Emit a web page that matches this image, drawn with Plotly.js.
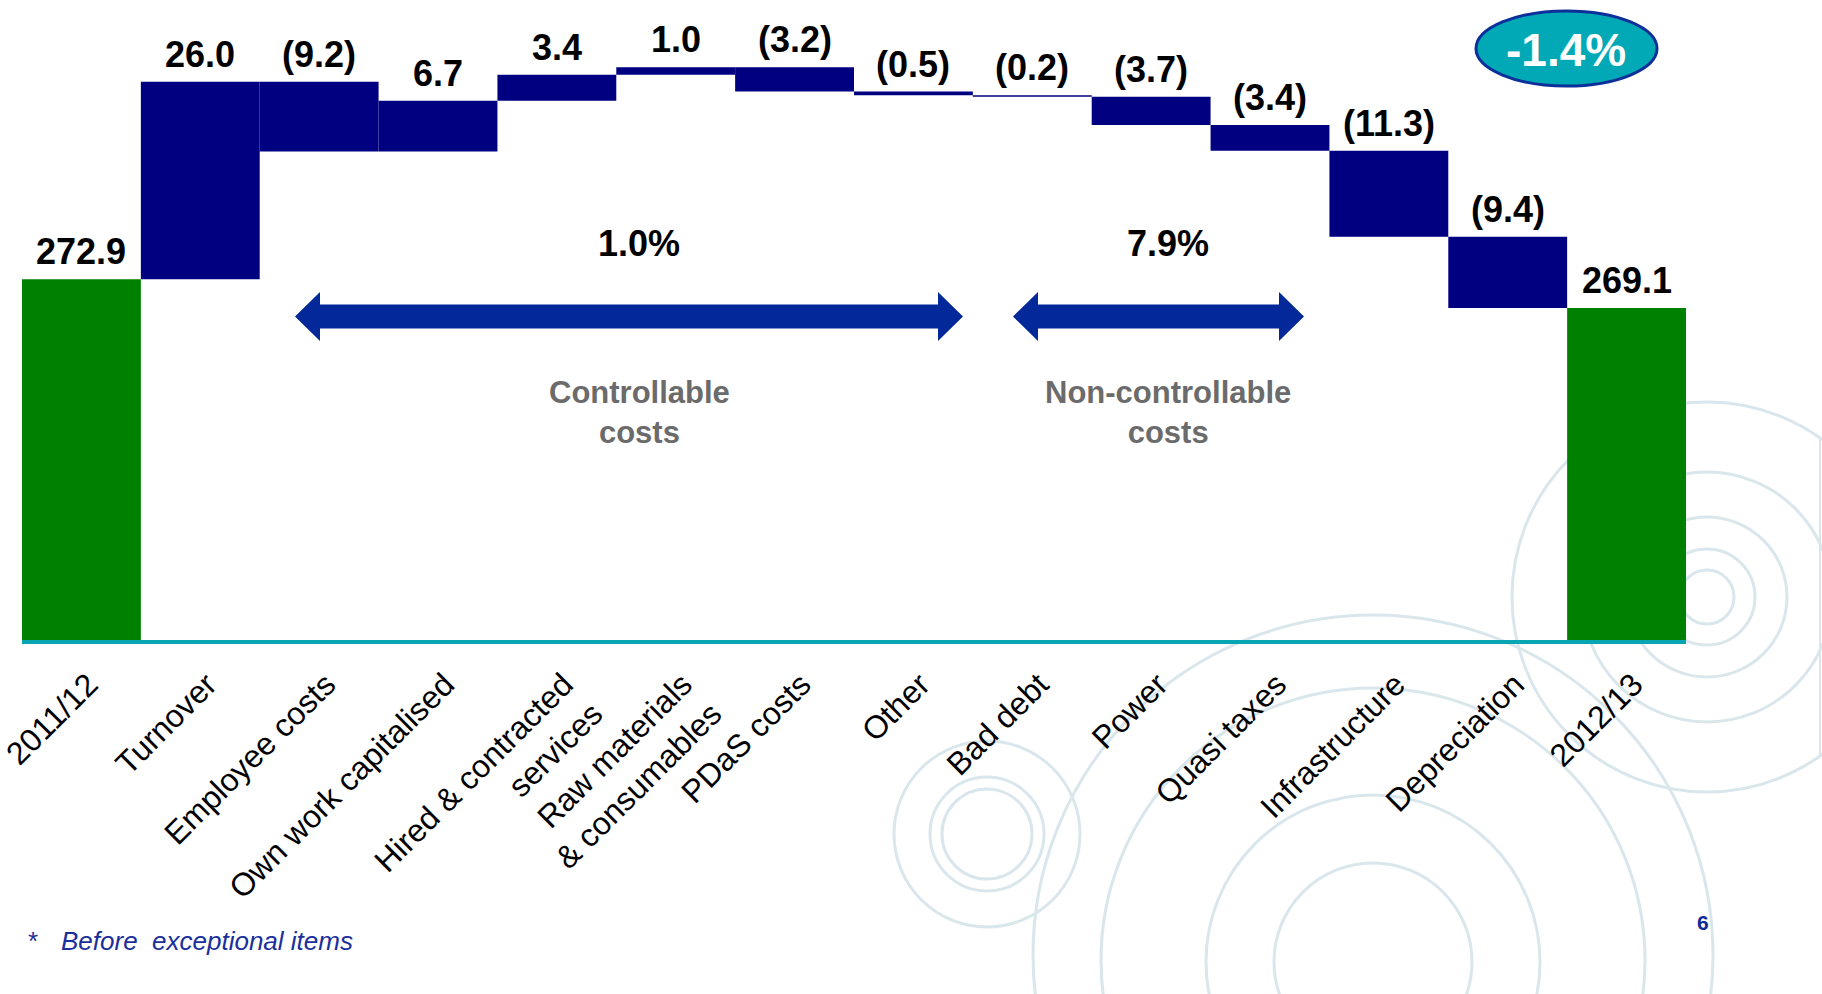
<!DOCTYPE html>
<html><head><meta charset="utf-8">
<script src="https://cdn.plot.ly/plotly-3.0.1.min.js"></script>
<style>html,body{margin:0;padding:0;background:#fff;}#chart{width:1822px;height:994px;}</style>
</head><body><div id="chart"></div>
<script>
// ---- data ----
const categories = ['2011/12','Turnover','Employee costs','Own work capitalised',
  'Hired &amp; contracted<br>services','Raw materials<br>&amp; consumables','PDaS costs','Other',
  'Bad debt','Power','Quasi taxes','Infrastructure','Depreciation','2012/13'];
const values = [272.9, 26.0, -9.2, 6.7, 3.4, 1.0, -3.2, -0.5, -0.2, -3.7, -3.4, -11.3, -9.4, 269.1];
const measures = ['absolute','relative','relative','relative','relative','relative','relative',
  'relative','relative','relative','relative','relative','relative','total'];
const groupNames = ['Controllable<br>costs', 'Non-controllable<br>costs'];
const groupChanges = ['1.0%', '7.9%'];
const totalChange = '-1.4%';
const footnoteMark = '*';
const footnoteText = 'Before\u00a0 exceptional items';
const pageNumber = '6';

// ---- geometry helpers (pixel -> paper) ----
const W = 1822, H = 994, M = {l:22, r:136, t:30, b:354};
const PW = W - M.l - M.r, PH = H - M.t - M.b;
const px = p => (p - M.l) / PW;
const py = p => (H - M.b - p) / PH;

const FONT = '"Liberation Sans", Arial, sans-serif';
const NAVY = '#000080', GREEN = '#008000', TEAL = '#08a6b3', ARROW = '#02289a';
const RING = '#d9e7ec';

// running totals for label placement
const fmt = v => v < 0 ? '(' + Math.abs(v).toFixed(1) + ')' : v.toFixed(1);
let run = 0; const tops = [];
values.forEach((v, i) => {
  if (measures[i] === 'absolute') { run = v; tops.push(v); }
  else if (measures[i] === 'total') { tops.push(run); }
  else { const prev = run; run += v; tops.push(Math.max(prev, run)); }
});

const trace = {
  type: 'waterfall', x: categories, y: values, measure: measures,
  increasing: {marker: {color: NAVY}}, decreasing: {marker: {color: NAVY}},
  totals: {marker: {color: GREEN}},
  connector: {visible: false}, textinfo: 'none', hoverinfo: 'skip'
};

const annotations = categories.map((c, i) => ({
  x: c, y: tops[i], xref: 'x', yref: 'y', yanchor: 'bottom', yshift: 5,
  text: fmt(values[i]), showarrow: false,
  font: {family: FONT, size: 36, color: '#000', weight: 700}
}));

// group labels
const groupCenters = [639, 1168];
groupChanges.forEach((t, i) => annotations.push({
  xref: 'paper', yref: 'paper', x: px(groupCenters[i]), y: py(243), text: t, showarrow: false,
  xanchor: 'center', yanchor: 'middle', font: {family: FONT, size: 36, color: '#000', weight: 700}
}));
groupNames.forEach((t, i) => annotations.push({
  xref: 'paper', yref: 'paper', x: px(groupCenters[i]), y: py(412), text: t, showarrow: false,
  xanchor: 'center', yanchor: 'middle', font: {family: FONT, size: 31, color: '#6b6b6b', weight: 700}
}));
annotations.push({xref: 'paper', yref: 'paper', x: px(1566), y: py(50), text: totalChange,
  showarrow: false, xanchor: 'center', yanchor: 'middle',
  font: {family: FONT, size: 46, color: '#fff', weight: 700}});
annotations.push({xref: 'paper', yref: 'paper', x: px(33), y: py(941), text: footnoteMark,
  showarrow: false, xanchor: 'center', yanchor: 'middle',
  font: {family: FONT, size: 26, color: '#1a2f9c'}});
annotations.push({xref: 'paper', yref: 'paper', x: px(59), y: py(941), text: footnoteText,
  showarrow: false, xanchor: 'left', yanchor: 'middle',
  font: {family: FONT, size: 26, color: '#1a2f9c', style: 'italic'}});
annotations.push({xref: 'paper', yref: 'paper', x: px(1703), y: py(922), text: pageNumber,
  showarrow: false, xanchor: 'center', yanchor: 'middle',
  font: {family: FONT, size: 21, color: '#0d2c98', weight: 700}});

// decorative rings
const rings = [
  [1707, 597, 27], [1707, 597, 48], [1707, 597, 80], [1707, 597, 125], [1707, 597, 195],
  [987, 834, 45], [987, 834, 57], [987, 834, 93],
  [1373, 962, 99], [1373, 962, 167], [1373, 960, 272], [1373, 955, 340]
];
const shapes = rings.map(([cx, cy, r]) => ({
  type: 'circle', xref: 'paper', yref: 'paper', layer: 'below',
  x0: px(cx - r), x1: px(cx + r), y0: py(cy + r), y1: py(cy - r),
  line: {color: RING, width: 3}
}));
shapes.push({type: 'line', xref: 'paper', yref: 'paper', layer: 'below',
  x0: px(1820), x1: px(1820), y0: py(437), y1: py(757), line: {color: RING, width: 2}});

// double-headed arrows
function arrowPath(x0, x1, yc, head, hh, sh) {
  const P = (x, y) => px(x).toFixed(5) + ',' + py(y).toFixed(5);
  return 'M' + P(x0, yc) + ' L' + P(x0 + head, yc - hh) + ' L' + P(x0 + head, yc - sh) +
    ' L' + P(x1 - head, yc - sh) + ' L' + P(x1 - head, yc - hh) + ' L' + P(x1, yc) +
    ' L' + P(x1 - head, yc + hh) + ' L' + P(x1 - head, yc + sh) + ' L' + P(x0 + head, yc + sh) +
    ' L' + P(x0 + head, yc + hh) + ' Z';
}
[[295, 963], [1013, 1304]].forEach(([a, b]) => shapes.push({
  type: 'path', xref: 'paper', yref: 'paper', layer: 'above',
  path: arrowPath(a, b, 316.5, 25, 24.5, 12), fillcolor: ARROW, line: {width: 0}
}));

// ellipse
shapes.push({type: 'circle', xref: 'paper', yref: 'paper', layer: 'above',
  x0: px(1476), x1: px(1657), y0: py(86), y1: py(11),
  fillcolor: '#00a9b5', line: {color: '#0d2f9a', width: 3}});

const layout = {
  width: W, height: H, margin: M, showlegend: false,
  paper_bgcolor: '#ffffff', plot_bgcolor: 'rgba(0,0,0,0)',
  waterfallgap: 0,
  font: {family: FONT},
  xaxis: {type: 'category', showline: true, linecolor: TEAL, linewidth: 4,
    showgrid: false, zeroline: false, ticks: '', tickangle: -45,
    ticklabelshift: 7, ticklabelstandoff: 9,
    tickfont: {family: FONT, size: 32, color: '#000'}, automargin: false, fixedrange: true},
  yaxis: {range: [225.4, 305.7], visible: false, showgrid: false, zeroline: false, fixedrange: true},
  annotations: annotations, shapes: shapes
};

Plotly.newPlot('chart', [trace], layout, {staticPlot: true, displayModeBar: false});
</script></body></html>
